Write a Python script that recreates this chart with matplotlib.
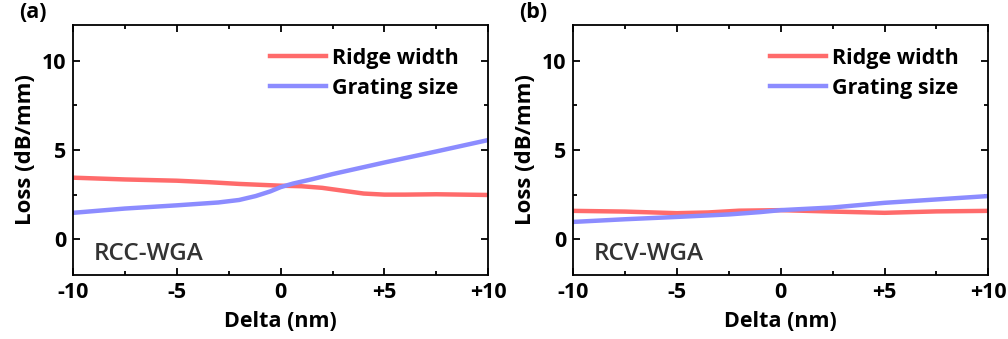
import numpy as np
import matplotlib
matplotlib.use("Agg")
import matplotlib.pyplot as plt
from matplotlib.ticker import MultipleLocator

plt.rcParams['font.family'] = ['Open Sans', 'DejaVu Sans']
plt.rcParams['font.weight'] = 'bold'

# panel (a) RCC-WGA
delta_a_ridge = [-10, -7.5, -5, -3.5, -2, 0, 1, 2, 3, 4, 5, 6, 7.5, 10]
ridge_a = [3.45, 3.35, 3.28, 3.2, 3.1, 3.0, 2.97, 2.88, 2.72, 2.56, 2.5, 2.5, 2.52, 2.48]
delta_a_grating = [-10, -7.5, -5, -3, -2, -1.2, -0.5, 0, 0.6, 1.5, 2.5, 5, 7.5, 10]
grating_a = [1.48, 1.72, 1.9, 2.06, 2.2, 2.42, 2.68, 2.92, 3.12, 3.36, 3.65, 4.3, 4.92, 5.56]

# panel (b) RCV-WGA
delta_b_ridge = [-10, -7.5, -5, -3.5, -2, 0, 2.5, 5, 7.5, 10]
ridge_b = [1.59, 1.55, 1.46, 1.5, 1.6, 1.63, 1.55, 1.48, 1.56, 1.59]
delta_b_grating = [-10, -7.5, -5, -2.5, -1, 0, 2.5, 5, 7.5, 10]
grating_b = [0.97, 1.12, 1.25, 1.39, 1.52, 1.63, 1.78, 2.04, 2.23, 2.42]

panels = [
    ("(a)", "RCC-WGA", delta_a_ridge, ridge_a, delta_a_grating, grating_a),
    ("(b)", "RCV-WGA", delta_b_ridge, ridge_b, delta_b_grating, grating_b),
]
xticks = [-10, -5, 0, 5, 10]
xtick_labels = ["-10", "-5", "0", "+5", "+10"]

red = "#ff6b6b"
blue = "#8c8cff"

fig = plt.figure(figsize=(10.08, 3.39), dpi=100)
lefts = [0.0724, 0.5685]

for left, (tag, name, xr, yr, xg, yg) in zip(lefts, panels):
    ax = fig.add_axes([left, 0.189, 0.412, 0.737])
    ax.plot(xr, yr, color=red, lw=3.2, label="Ridge width", solid_joinstyle="round")
    ax.plot(xg, yg, color=blue, lw=3.2, label="Grating size", solid_joinstyle="round")
    ax.set_xlim(-10, 10)
    ax.set_ylim(-2, 12)
    ax.set_xticks(xticks)
    ax.set_xticklabels(xtick_labels)
    ax.set_yticks([0, 5, 10])
    ax.xaxis.set_minor_locator(MultipleLocator(2.5))
    ax.yaxis.set_minor_locator(MultipleLocator(2.5))
    ax.tick_params(which="both", direction="in", top=True, right=True, width=1.3,
                   labelsize=15.5, pad=5)
    ax.tick_params(which="major", length=5)
    ax.tick_params(which="minor", length=3)
    for s in ax.spines.values():
        s.set_linewidth(1.3)
    ax.set_xlabel("Delta (nm)", fontsize=15.5, fontweight="bold", labelpad=6)
    ax.set_ylabel("Loss (dB/mm)", fontsize=16, fontweight="bold", labelpad=4)
    ax.legend(loc="upper right", bbox_to_anchor=(0.95, 0.943), borderaxespad=0,
              frameon=False, fontsize=15.5, handlelength=2.6,
              handletextpad=0.3, labelspacing=0.4)
    ax.text(0.05, 0.06, name, transform=ax.transAxes, fontsize=17.5,
            fontweight="semibold", color="#333333")
    fig.text(left - 0.053, 0.995, tag, fontsize=15.5, fontweight="bold", va="top")

fig.savefig("out.png", dpi=100)
